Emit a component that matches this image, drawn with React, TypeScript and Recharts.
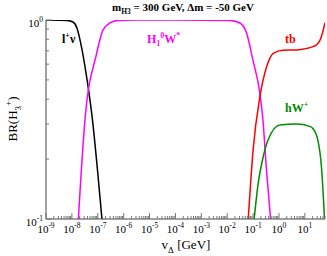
import React from 'react';
import { LineChart, Line, XAxis, YAxis } from 'recharts';

// branching ratios of H3+ vs v_Delta
const lnuV = [1e-9, 3.16e-9, 6.46e-9, 1.1e-8, 1.58e-8, 2.19e-8, 3.72e-8, 6.24e-8, 9.72e-8, 1.45e-7];
const lnuBR = [1, 0.998, 0.995, 0.977, 0.91, 0.766, 0.517, 0.315, 0.177, 0.1];

const h1wV = [1.78e-8, 3.2e-8, 9.08e-8, 1.58e-7, 2.96e-7, 6.0e-7, 3e-6, 1e-4, 1.26e-2, 3.1e-2, 5.6e-2, 9.8e-2, 0.182, 0.24, 0.331, 0.474];
const h1wBR = [0.1, 0.315, 0.68, 0.89, 0.966, 0.995, 1, 1, 0.995, 0.966, 0.86, 0.63, 0.43, 0.315, 0.175, 0.1];

const tbV = [0.065, 0.1, 0.182, 0.331, 0.603, 1.41, 4.79, 11.7, 20.4, 30, 40, 49, 60];
const tbBR = [0.1, 0.222, 0.41, 0.58, 0.68, 0.705, 0.707, 0.72, 0.735, 0.755, 0.8, 0.87, 0.97];

const hwV = [0.11, 0.158, 0.245, 0.38, 1.08, 4.79, 15.5, 20.4, 31.6, 44.2, 50.9, 57.5];
const hwBR = [0.1, 0.152, 0.205, 0.25, 0.297, 0.3, 0.292, 0.285, 0.25, 0.18, 0.135, 0.1];

const xMajorExp = [-9, -8, -7, -6, -5, -4, -3, -2, -1, 0, 1];
const yMajorExp = [-1, 0];
const X_MAX = 60;

const zip = (v: number[], br: number[]) => v.map((x, i) => ({ v: x, br: br[i] }));

const xTicks: number[] = [];
xMajorExp.forEach(e => {
  for (let k = 1; k <= 9; k++) {
    const t = k * Math.pow(10, e);
    if (t <= X_MAX) xTicks.push(t);
  }
});
const yTicks = [0.1, 0.2, 0.3, 0.4, 0.5, 0.6, 0.7, 0.8, 0.9, 1];

const serif = '"Liberation Serif", "DejaVu Serif", serif';
const tickColor = '#777';
const frame = '#444';

const majorExp = (v: number) => {
  const e = Math.round(Math.log10(v));
  return Math.abs(v - Math.pow(10, e)) / v < 1e-6 ? e : null;
};

const BottomTick = ({ x, y, payload }: any) => {
  const e = majorExp(payload.value);
  const len = e !== null ? 6 : 3;
  return (
    <g>
      <line x1={x} x2={x} y1={y} y2={y - len} stroke={tickColor} />
      {e !== null && (
        <text x={x} y={y + 14} textAnchor="middle" fontFamily={serif} fontSize={11} fill="#000">
          10<tspan dy={-5} fontSize={7.5}>{e}</tspan>
        </text>
      )}
    </g>
  );
};

const TopTick = ({ x, y, payload }: any) => {
  const e = majorExp(payload.value);
  const len = e !== null ? 6 : 3;
  return <line x1={x} x2={x} y1={y} y2={y + len} stroke={tickColor} />;
};

const LeftTick = ({ x, y, payload }: any) => {
  const e = majorExp(payload.value);
  const len = e !== null ? 6 : 3;
  return (
    <g>
      <line x1={x} x2={x + len} y1={y} y2={y} stroke={tickColor} />
      {e !== null && yMajorExp.includes(e) && (
        <text x={x - 3} y={y + 7} textAnchor="end" fontFamily={serif} fontSize={11} fill="#000">
          10<tspan dy={-5} fontSize={7.5}>{e}</tspan>
        </text>
      )}
    </g>
  );
};

const RightTick = ({ x, y, payload }: any) => {
  const e = majorExp(payload.value);
  const len = e !== null ? 6 : 3;
  return <line x1={x} x2={x - len} y1={y} y2={y} stroke={tickColor} />;
};

export default function App() {
  return (
    <div style={{ position: 'absolute', left: 0, top: 0, width: 327, height: 256, background: '#fff' }}>
      <LineChart width={327} height={256} margin={{ top: 20, right: 2, bottom: 0, left: 0 }}>
        <XAxis xAxisId="b" orientation="bottom" type="number" dataKey="v" scale="log" domain={[1e-9, X_MAX]}
          allowDataOverflow ticks={xTicks} interval={0} tick={<BottomTick />} tickLine={false} tickSize={0}
          tickMargin={0} height={37} axisLine={{ stroke: frame }} />
        <XAxis xAxisId="t" orientation="top" type="number" dataKey="v" scale="log" domain={[1e-9, X_MAX]}
          allowDataOverflow ticks={xTicks} interval={0} tick={<TopTick />} tickLine={false} tickSize={0}
          tickMargin={0} height={0} axisLine={{ stroke: frame }} />
        <YAxis yAxisId="l" orientation="left" type="number" scale="log" domain={[0.1, 1]} allowDataOverflow
          ticks={yTicks} interval={0} tick={<LeftTick />} tickLine={false} tickSize={0} tickMargin={0}
          width={46} axisLine={{ stroke: frame }} />
        <YAxis yAxisId="r" orientation="right" type="number" scale="log" domain={[0.1, 1]} allowDataOverflow
          ticks={yTicks} interval={0} tick={<RightTick />} tickLine={false} tickSize={0} tickMargin={0}
          width={0} axisLine={{ stroke: frame }} />
        <Line xAxisId="b" yAxisId="l" data={zip(lnuV, lnuBR)} dataKey="br" type="monotone" stroke="#000"
          strokeWidth={1.5} dot={false} isAnimationActive={false} />
        <Line xAxisId="b" yAxisId="l" data={zip(h1wV, h1wBR)} dataKey="br" type="monotone" stroke="#ff00ff"
          strokeWidth={1.5} dot={false} isAnimationActive={false} />
        <Line xAxisId="b" yAxisId="l" data={zip(tbV, tbBR)} dataKey="br" type="monotone" stroke="#ff0000"
          strokeWidth={1.5} dot={false} isAnimationActive={false} />
        <Line xAxisId="b" yAxisId="l" data={zip(hwV, hwBR)} dataKey="br" type="monotone" stroke="#008b00"
          strokeWidth={1.5} dot={false} isAnimationActive={false} />
      </LineChart>
      <svg width={327} height={256} style={{ position: 'absolute', left: 0, top: 0, pointerEvents: 'none' }}>
        <text x={183} y={11} textAnchor="middle" fontFamily={serif} fontSize={11} fontWeight="bold">
          m<tspan dy={3} fontSize={7.5}>H3</tspan><tspan dy={-3}> = 300 GeV, Δm = -50 GeV</tspan>
        </text>
        <text x={186} y={249} textAnchor="middle" fontFamily={serif} fontSize={13}>
          v<tspan dy={4} fontSize={9}>Δ</tspan><tspan dy={-4}> [GeV]</tspan>
        </text>
        <text transform="translate(17,119) rotate(-90)" textAnchor="middle" fontFamily={serif} fontSize={13}>
          BR(H<tspan dy={4} fontSize={9}>3</tspan><tspan dy={-10} fontSize={9}>+</tspan><tspan dy={6}>)</tspan>
        </text>
        <text x={62} y={43} fontFamily={serif} fontSize={12} fontWeight="bold" fill="#000">
          l<tspan dy={-5} fontSize={8}>+</tspan><tspan dy={5}>ν</tspan>
        </text>
        <text x={147} y={43} fontFamily={serif} fontSize={12} fontWeight="bold" fill="#ff00ff">
          H<tspan dy={3} fontSize={8}>1</tspan><tspan dy={-8} fontSize={8}>0</tspan><tspan dy={5}>W</tspan><tspan dy={-5} fontSize={8}>*</tspan>
        </text>
        <text x={285} y={43} fontFamily={serif} fontSize={12} fontWeight="bold" fill="#ff0000">tb</text>
        <text x={285} y={112} fontFamily={serif} fontSize={12} fontWeight="bold" fill="#008b00">
          hW<tspan dy={-5} fontSize={8}>+</tspan>
        </text>
      </svg>
    </div>
  );
}
